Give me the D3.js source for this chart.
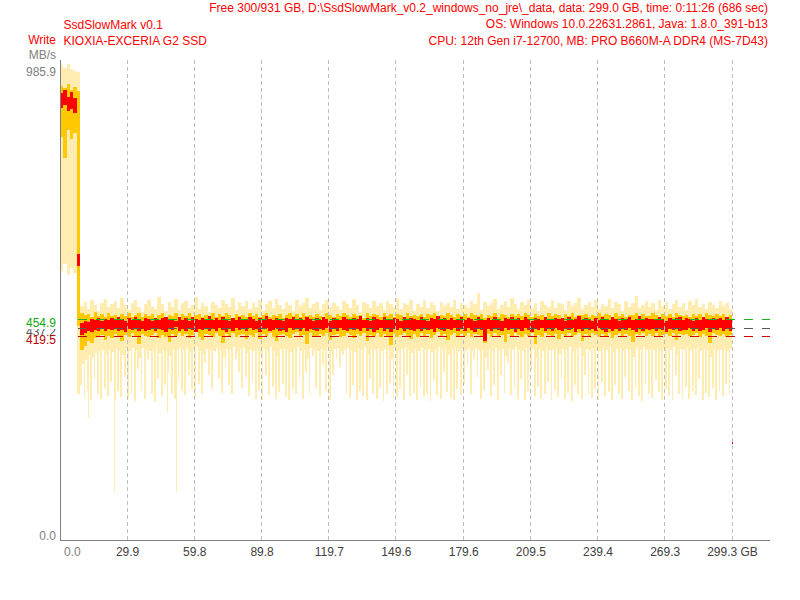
<!DOCTYPE html>
<html>
<head>
<meta charset="utf-8">
<script src="https://cdn.jsdelivr.net/npm/d3@7"></script>
<style>
  body { margin: 0; background: #fff; }
  svg text { font-family: "Liberation Sans", Arial, sans-serif; font-size: 12px; }
</style>
</head>
<body>
<div id="chart"></div>
<script>
// ---- header texts ----
const headerLeft = ["SsdSlowMark v0.1", "KIOXIA-EXCERIA G2 SSD"];
const headerRight = [
    "Free 300/931 GB, D:\\SsdSlowMark_v0.2_windows_no_jre\\_data, data: 299.0 GB, time: 0:11:26 (686 sec)",
    "OS: Windows 10.0.22631.2861, Java: 1.8.0_391-b13",
    "CPU: 12th Gen i7-12700, MB: PRO B660M-A DDR4 (MS-7D43)"
];
const modeLabel = "Write";
const unitLabel = "MB/s";

// ---- axes ----
const totalGB = 299.3;
const maxMBs = 985.9;
const xTickValues = [0, 29.9, 59.8, 89.8, 119.7, 149.6, 179.6, 209.5, 239.4, 269.3, 299.3];
const xTickLabels = ["0.0", "29.9", "59.8", "89.8", "119.7", "149.6", "179.6", "209.5", "239.4", "269.3", "299.3 GB"];

// ---- reference levels (after the SLC cache is exhausted) ----
const steadyStartGB = 8.0;
const levelValues = [454.9, 437.2, 419.5];
const levelLabels = ["454.9", "437.2", "419.5"];

// ---- per-sample write speed, MB/s (200 samples over 0..299.3 GB) ----
// raw min/max (pale), smoothed min/max (gold), average min/max (red)
const rawMax = [983, 978, 985, 975, 972, 970,
    482, 490, 476, 495, 485, 472, 488, 498, 480, 486,
    492, 478, 500, 484, 474, 489, 496, 481, 470, 487,
    494, 483, 477, 501, 486, 473, 490, 480, 497, 475,
    488, 493, 479, 484, 502, 476, 489, 482, 471, 491,
    485, 478, 496, 487, 480, 499, 474, 490, 483, 493,
    477, 488, 481, 495, 472, 486, 492, 479, 498, 484,
    476, 490, 485, 473, 494, 482, 488, 500, 478, 486,
    491, 474, 487, 496, 480, 489, 483, 475, 492, 486,
    479, 497, 484, 471, 490, 486, 478, 493, 482, 488,
    475, 492, 486, 480, 499, 477, 489, 484, 494, 473,
    487, 481, 496, 478, 490, 485, 472, 491, 483, 488,
    480, 495, 476, 489, 484, 479, 493, 486, 510, 474,
    491, 482, 488, 497, 477, 485, 492, 480, 500, 487,
    476, 490, 484, 495, 479, 488, 473, 492, 485, 481,
    496, 478, 489, 486, 474, 493, 482, 488, 499, 477,
    485, 491, 480, 494, 476, 487, 483, 497, 479, 490,
    486, 472, 492, 481, 489, 504, 478, 485, 493, 480,
    488, 475, 496, 483, 490, 477, 486, 494, 481, 489,
    474, 492, 485, 498, 480, 487, 476, 491, 484, 479,
    493, 482, 488, 476];
const rawMin = [556, 570, 548, 562, 552, 300,
    318, 292, 305, 287, 330, 300, 289, 312, 296, 325,
    288, 306, 294, 335, 291, 300, 284, 352, 310, 290,
    372, 299, 283, 330, 295, 318, 343, 300, 290, 326,
    305, 297, 338, 310, 292, 320, 300, 365, 340, 310,
    385, 330, 302, 355, 318, 300, 372, 345, 312, 335,
    296, 325, 290, 308, 287, 340, 298, 315, 289, 304,
    320, 293, 286, 310, 300, 333, 290, 345, 300, 378,
    312, 295, 360, 305, 288, 340, 372, 355, 380, 300,
    292, 318, 286, 305, 296, 287, 330, 299, 290, 312,
    284, 300, 322, 289, 296, 310, 286, 340, 295, 302,
    288, 315, 293, 300, 285, 328, 297, 290, 345, 303,
    292, 286, 310, 298, 320, 360, 300, 372, 335, 290,
    308, 350, 295, 318, 288, 340, 302, 365, 297, 312,
    290, 330, 286, 305, 350, 296, 315, 289, 300, 325,
    287, 308, 294, 330, 290, 302, 285, 318, 298, 289,
    340, 300, 292, 310, 287, 325, 296, 304, 286, 318,
    299, 290, 335, 306, 288, 312, 295, 284, 320, 300,
    291, 328, 303, 288, 310, 296, 286, 340, 300, 293,
    315, 289, 305, 297, 330, 287, 302, 294, 312, 288,
    305, 296, 320, 300];
const smoothMax = [940, 935, 945, 932, 938, 930,
    468, 463, 466, 460, 470, 462, 465, 459, 467, 461,
    464, 458, 466, 462, 469, 460, 463, 467, 459, 465,
    461, 466, 458, 463, 468, 460, 464, 462, 467, 459,
    465, 461, 469, 458, 463, 466, 460, 464, 462, 468,
    459, 465, 461, 467, 463, 458, 466, 462, 464, 460,
    468, 461, 465, 459, 463, 467, 460, 464, 462, 466,
    458, 463, 469, 461, 465, 460, 467, 462, 464, 459,
    466, 462, 460, 468, 463, 459, 465, 461, 467, 463,
    460, 466, 462, 464, 458, 467, 461, 465, 463, 459,
    468, 462, 465, 460, 466, 463, 459, 467, 461, 464,
    462, 466, 459, 465, 463, 468, 460, 464, 461, 467,
    463, 459, 466, 462, 465, 460, 469, 463, 461, 466,
    458, 464, 462, 467, 460, 465, 463, 459, 466, 462,
    465, 461, 468, 463, 459, 466, 462, 464, 460, 467,
    461, 465, 463, 458, 466, 462, 468, 460, 464, 463,
    466, 459, 464, 462, 467, 461, 465, 463, 460, 468,
    462, 466, 460, 464, 463, 467, 459, 465, 462, 461,
    467, 463, 458, 466, 462, 465, 460, 468, 463, 461,
    464, 460, 466, 462, 465, 459, 467, 463, 461, 466,
    462, 465, 460, 463];
const smoothMin = [835, 790, 848, 830, 842, 440,
    392, 400, 410, 405, 415, 418, 422, 412, 420, 416,
    424, 419, 410, 423, 418, 426, 421, 404, 425, 420,
    418, 423, 427, 415, 422, 419, 408, 424, 421, 426,
    420, 425, 417, 423, 428, 419, 411, 424, 422, 418,
    426, 421, 406, 424, 420, 427, 418, 423, 425, 414,
    422, 419, 426, 413, 424, 421, 427, 418, 409, 423,
    425, 420, 416, 424, 428, 419, 422, 403, 426, 421,
    418, 424, 420, 427, 412, 423, 425, 419, 421, 426,
    422, 417, 425, 420, 427, 410, 423, 421, 426, 419,
    424, 420, 402, 425, 418, 423, 427, 421, 414, 424,
    419, 426, 421, 424, 417, 422, 428, 420, 425, 411,
    423, 427, 419, 424, 421, 426, 418, 425, 422, 420,
    405, 424, 419, 426, 421, 423, 408, 425, 420, 427,
    422, 418, 425, 421, 426, 404, 423, 419, 427, 422,
    420, 425, 413, 424, 421, 427, 418, 423, 426, 409,
    424, 420, 426, 422, 418, 425, 421, 427, 416, 423,
    426, 419, 424, 421, 407, 425, 422, 427, 420, 424,
    421, 426, 418, 423, 425, 420, 427, 412, 424, 422,
    425, 420, 423, 427, 419, 424, 421, 406, 426, 422,
    420, 425, 418, 423];
const avgMax = [925, 932, 918, 928, 915, 590,
    448, 452, 450, 455, 453, 457, 451, 456, 454, 458,
    453, 459, 455, 452, 457, 454, 460, 456, 451, 458,
    455, 452, 458, 454, 457, 460, 453, 456, 451, 459,
    454, 457, 452, 459, 455, 453, 458, 456, 461, 454,
    457, 453, 459, 455, 452, 458, 454, 460, 456, 453,
    459, 455, 452, 457, 454, 461, 456, 453, 458, 455,
    452, 458, 455, 460, 453, 457, 454, 459, 456, 452,
    457, 454, 460, 455, 452, 458, 456, 453, 459, 455,
    453, 458, 455, 461, 454, 457, 452, 459, 456, 454,
    460, 455, 453, 458, 456, 452, 459, 454, 457, 455,
    453, 459, 456, 452, 458, 455, 461, 454, 457, 453,
    458, 454, 456, 460, 453, 457, 455, 452, 459, 456,
    454, 457, 453, 459, 456, 452, 458, 455, 460, 454,
    457, 453, 459, 455, 452, 458, 456, 454, 460, 455,
    453, 458, 455, 457, 452, 459, 454, 456, 461, 453,
    457, 455, 452, 458, 454, 460, 456, 453, 459, 455,
    452, 457, 455, 459, 453, 456, 461, 454, 458, 455,
    456, 453, 459, 455, 452, 458, 454, 457, 460, 453,
    458, 455, 452, 457, 454, 459, 456, 453, 458, 455,
    457, 454, 459, 455];
const avgMin = [895, 900, 888, 892, 885, 565,
    422, 426, 430, 428, 433, 431, 435, 430, 434, 432,
    436, 431, 433, 429, 435, 432, 437, 430, 434, 431,
    433, 437, 430, 435, 432, 429, 436, 433, 438, 431,
    434, 430, 436, 432, 429, 435, 433, 437, 431, 434,
    430, 436, 433, 428, 435, 431, 437, 432, 434, 430,
    436, 432, 435, 429, 434, 437, 431, 433, 436, 430,
    433, 429, 436, 432, 435, 430, 437, 431, 434, 433,
    430, 435, 432, 437, 429, 434, 431, 436, 433, 430,
    436, 432, 434, 430, 437, 431, 435, 429, 433, 436,
    431, 435, 429, 434, 432, 437, 430, 436, 433, 431,
    435, 430, 437, 432, 434, 429, 436, 433, 431, 435,
    432, 437, 430, 434, 431, 436, 433, 429, 435, 432,
    410, 434, 431, 437, 433, 430, 436, 432, 435, 429,
    434, 431, 436, 433, 429, 435, 432, 437, 430, 434,
    431, 436, 433, 430, 435, 432, 437, 429, 434, 431,
    436, 432, 434, 430, 437, 433, 429, 435, 431, 434,
    430, 435, 432, 437, 433, 429, 436, 431, 434, 432,
    435, 431, 437, 433, 429, 434, 432, 436, 430, 433,
    432, 437, 430, 435, 431, 433, 436, 429, 434, 432,
    436, 431, 434, 430];

// single deep drops of the raw speed
const dipGB = [12.9, 24.2, 47.7, 51.8];
const dipMin = [250, 96, 260, 96];

// last (partial) measurement
const tailGB = 299.3;
const tailMin = 196;
const tailMax = 208;

// ---- layout ----
const width = 800, height = 600;
const plot = { left: 60, right: 732, top: 60, bottom: 540, axisEnd: 770 };
const paleColor = "#ffecb0";

const svg = d3.select("#chart").append("svg")
    .attr("width", width)
    .attr("height", height);

const x = d3.scaleLinear().domain([0, totalGB]).range([plot.left, plot.right]);
const y = d3.scaleLinear().domain([0, maxMBs]).range([538, 64]);

const sampleStepGB = totalGB / rawMax.length;
const samples = rawMax.map((_, i) => ({
    gb0: i * sampleStepGB,
    gb1: (i + 1) * sampleStepGB,
    rawMax: rawMax[i], rawMin: rawMin[i],
    smoothMax: smoothMax[i], smoothMin: smoothMin[i],
    avgMax: avgMax[i], avgMin: avgMin[i]
}));

// draws one range bar per sample (widthShare < 1 leaves a gap, like the thin raw spikes)
function rangeBars(color, lo, hi, widthShare = 1) {
    svg.append("g").selectAll("rect")
        .data(samples)
        .join("rect")
        .attr("x", d => x(d.gb0))
        .attr("width", d => (x(d.gb1) - x(d.gb0)) * widthShare)
        .attr("y", d => y(hi(d)))
        .attr("height", d => Math.max(0, y(lo(d)) - y(hi(d))))
        .attr("fill", color)
        .attr("shape-rendering", "crispEdges");
}

// raw range: dense core near the smoothed band, thinner spikes below it
const isSteady = d => d.gb0 >= steadyStartGB;
const coreLow = d => isSteady(d) ? Math.max(d.rawMin, d.smoothMin - 30) : d.rawMin;
rangeBars(paleColor, coreLow, d => d.rawMax);
rangeBars(paleColor, d => d.rawMin, coreLow, 0.55);

// deep single drops
svg.append("g").selectAll("rect")
    .data(dipGB.map((gb, i) => ({ gb, v: dipMin[i] })))
    .join("rect")
    .attr("x", d => Math.floor(x(d.gb)))
    .attr("width", 1)
    .attr("y", y(420))
    .attr("height", d => y(d.v) - y(420))
    .attr("fill", paleColor)
    .attr("shape-rendering", "crispEdges");

rangeBars("#ffc800", d => d.smoothMin, d => d.smoothMax);
rangeBars("#ff0000", d => d.avgMin, d => d.avgMax);

svg.append("rect")
    .attr("x", Math.floor(x(tailGB)))
    .attr("width", 1)
    .attr("y", y(tailMax))
    .attr("height", y(tailMin) - y(tailMax))
    .attr("fill", "#ff0000")
    .attr("shape-rendering", "crispEdges");

// vertical dashed grid
svg.append("g").selectAll("line")
    .data(xTickValues.filter(v => v > 0))
    .join("line")
    .attr("x1", d => Math.floor(x(d)) + 0.5)
    .attr("x2", d => Math.floor(x(d)) + 0.5)
    .attr("y1", plot.top)
    .attr("y2", plot.bottom)
    .attr("stroke", "#bdbdbd")
    .attr("stroke-dasharray", "4,3");

// reference levels
const levelColors = ["#1fb01f", "#5a5a5a", "#d00000"];
const levelTextColors = ["#10a810", "#555555", "#c00000"];
svg.append("g").selectAll("line")
    .data(levelValues)
    .join("line")
    .attr("x1", x(steadyStartGB))
    .attr("x2", plot.axisEnd)
    .attr("y1", d => Math.round(y(d)) + 0.5)
    .attr("y2", d => Math.round(y(d)) + 0.5)
    .attr("stroke", (d, i) => levelColors[i])
    .attr("stroke-dasharray", "9,9");

// axis lines
svg.append("line")
    .attr("x1", plot.left + 0.5).attr("x2", plot.left + 0.5)
    .attr("y1", plot.top).attr("y2", plot.bottom + 1)
    .attr("stroke", "#808080");
svg.append("line")
    .attr("x1", plot.left).attr("x2", plot.axisEnd)
    .attr("y1", plot.bottom + 0.5).attr("y2", plot.bottom + 0.5)
    .attr("stroke", "#808080");

// x tick labels
svg.append("g").selectAll("text")
    .data(xTickValues)
    .join("text")
    .attr("x", (d, i) => i === 0 ? x(d) + 4 : x(d) + 0.5)
    .attr("y", 556)
    .attr("text-anchor", (d, i) => i === 0 ? "start" : "middle")
    .attr("fill", (d, i) => i === 0 ? "#808080" : "#404040")
    .text((d, i) => xTickLabels[i]);

// y labels: scale ends and reference levels
const labelBaseline = v => Math.max(76, Math.min(540, Math.round(y(v)) + 8));
svg.append("g").selectAll("text")
    .data([0, maxMBs])
    .join("text")
    .attr("x", 56)
    .attr("y", d => labelBaseline(d))
    .attr("text-anchor", "end")
    .attr("fill", "#808080")
    .text(d => d.toFixed(1));

// level labels: median first, then lower, then the upper one on a white box
// that clips the top of the median label (as in the original)
const levelOrder = [1, 2, 0];
const levelLabel = svg.append("g").selectAll("g")
    .data(levelOrder)
    .join("g");
levelLabel.filter(i => i === 0).append("rect")
    .attr("x", 24)
    .attr("y", i => labelBaseline(levelValues[i]) - 10)
    .attr("width", 34)
    .attr("height", 12)
    .attr("fill", "#fff");
levelLabel.append("text")
    .attr("x", 56)
    .attr("y", i => labelBaseline(levelValues[i]))
    .attr("text-anchor", "end")
    .attr("fill", i => levelTextColors[i])
    .text(i => levelLabels[i]);

svg.append("text")
    .attr("x", 56).attr("y", 59)
    .attr("text-anchor", "end")
    .attr("fill", "#808080")
    .text(unitLabel);

// header
svg.append("text")
    .attr("x", 56).attr("y", 44)
    .attr("text-anchor", "end")
    .attr("fill", "#ff0000")
    .text(modeLabel);
svg.append("g").selectAll("text")
    .data(headerLeft)
    .join("text")
    .attr("x", 63.5)
    .attr("y", (d, i) => 28.5 + i * 16)
    .attr("fill", "#ff0000")
    .text(d => d);
svg.append("g").selectAll("text")
    .data(headerRight)
    .join("text")
    .attr("x", 768)
    .attr("y", (d, i) => 12 + i * 16.3)
    .attr("text-anchor", "end")
    .attr("fill", "#ff0000")
    .text(d => d);
</script>
</body>
</html>
